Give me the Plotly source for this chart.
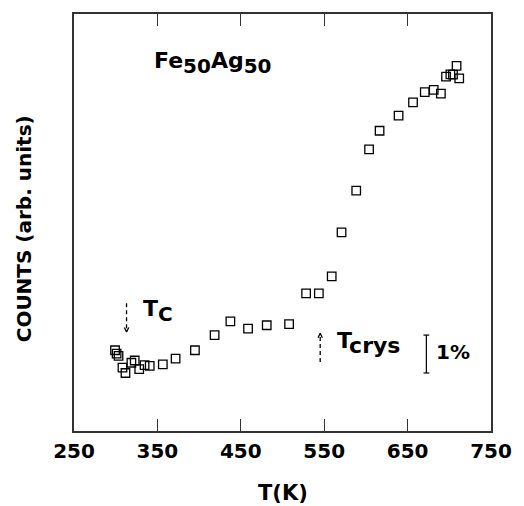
import plotly.graph_objects as go

# Data: temperature (K) and counts (relative, in % units)
temperature = [299.2, 301.1, 303.4, 308.1, 311.7, 318.8, 322.8, 328.2, 334.6, 340.8,
               356.5, 371.8, 395.0, 418.6, 437.5, 458.7, 481.1, 507.9, 528.3, 543.6,
               559.0, 570.8, 588.4, 603.8, 616.4, 639.2, 656.5, 670.6, 681.3, 689.9,
               696.1, 701.3, 704.4, 708.7, 711.9]
counts = [2.13, 2.04, 1.98, 1.67, 1.53, 1.80, 1.86, 1.63, 1.74, 1.72,
          1.76, 1.91, 2.13, 2.53, 2.89, 2.70, 2.79, 2.82, 3.63, 3.63,
          4.08, 5.24, 6.34, 7.43, 7.92, 8.32, 8.67, 8.94, 9.00, 8.90,
          9.35, 9.41, 9.40, 9.63, 9.30]

x_ticks = [250, 350, 450, 550, 650, 750]
x_range = [250, 750]
y_range = [0, 11]

# annotation markers (T_C arrow down, T_crys arrow up, 1% scale bar)
tc_T, tc_top, tc_bot = 313.0, 3.37, 2.61
tcrys_T, tcrys_bot, tcrys_top = 545.2, 1.82, 2.58
bar_T, bar_lo, bar_hi = 672.5, 1.53, 2.53

fig = go.Figure()
fig.add_trace(go.Scatter(
    x=temperature, y=counts, mode="markers",
    marker=dict(symbol="square-open", size=8.5, color="black", line=dict(width=1.3, color="black")),
    showlegend=False, hoverinfo="skip"))

# dashed arrows
for xa, y0, y1 in [(tc_T, tc_top, tc_bot), (tcrys_T, tcrys_bot, tcrys_top)]:
    fig.add_trace(go.Scatter(x=[xa, xa], y=[y0, y1], mode="lines",
                             line=dict(color="black", width=1.3, dash="4px,3px"),
                             showlegend=False, hoverinfo="skip"))
    d = 0.12 if y1 < y0 else -0.12
    fig.add_trace(go.Scatter(x=[xa - 2.6, xa, xa + 2.6], y=[y1 + d, y1, y1 + d], mode="lines",
                             line=dict(color="black", width=1.3),
                             showlegend=False, hoverinfo="skip"))

# 1% scale bar
fig.add_trace(go.Scatter(
    x=[bar_T - 3.5, bar_T + 3.5, None, bar_T, bar_T, None, bar_T - 3.5, bar_T + 3.5],
    y=[bar_hi, bar_hi, None, bar_hi, bar_lo, None, bar_lo, bar_lo],
    mode="lines", line=dict(color="black", width=1.2), showlegend=False, hoverinfo="skip"))

FAM = "DejaVu Sans, Arial, sans-serif"
font_b = dict(family=FAM, color="black", weight="bold")


def sub(txt, px):
    return "<sub><span style='font-size:%dpx'>%s</span></sub>" % (px, txt)


ann = [
    dict(x=416.5, y=9.7, text="Fe" + sub("50", 20) + "Ag" + sub("50", 20),
         font=dict(size=22, **font_b), xanchor="center", yanchor="middle"),
    dict(x=330.0, y=3.16, text="T" + sub("C", 20), font=dict(size=22, **font_b),
         xanchor="left", yanchor="middle"),
    dict(x=563.0, y=2.32, text="T" + sub("crys", 22), font=dict(size=22, **font_b),
         xanchor="left", yanchor="middle"),
    dict(x=681.6, y=2.08, text="1%", font=dict(size=20, **font_b),
         xanchor="left", yanchor="middle"),
    dict(x=0.502, y=-0.148, xref="paper", yref="paper", text="T(K)", font=dict(size=21, **font_b),
         xanchor="center", yanchor="middle"),
    dict(x=-0.120, y=0.486, xref="paper", yref="paper", text="COUNTS (arb. units)",
         font=dict(size=20, **font_b), textangle=-90, xanchor="center", yanchor="middle"),
]
for a in ann:
    a.setdefault("xref", "x")
    a.setdefault("yref", "y")
    a["showarrow"] = False
fig.update_layout(annotations=ann)

fig.update_layout(
    width=524, height=506,
    margin=dict(l=74, r=26, t=13, b=75),
    paper_bgcolor="white", plot_bgcolor="white",
    xaxis=dict(range=x_range, tickvals=x_ticks, ticks="inside", ticklen=12, tickwidth=1.2,
               tickcolor="#333", showline=True, linecolor="#333", linewidth=1.5, mirror="ticks",
               showgrid=False, zeroline=False, ticklabelstandoff=1,
               tickfont=dict(size=20, **font_b)),
    yaxis=dict(range=y_range, showticklabels=False, ticks="", showline=True, linecolor="#333",
               linewidth=1.5, mirror=True, showgrid=False, zeroline=False),
)

fig.write_html("out.html")
